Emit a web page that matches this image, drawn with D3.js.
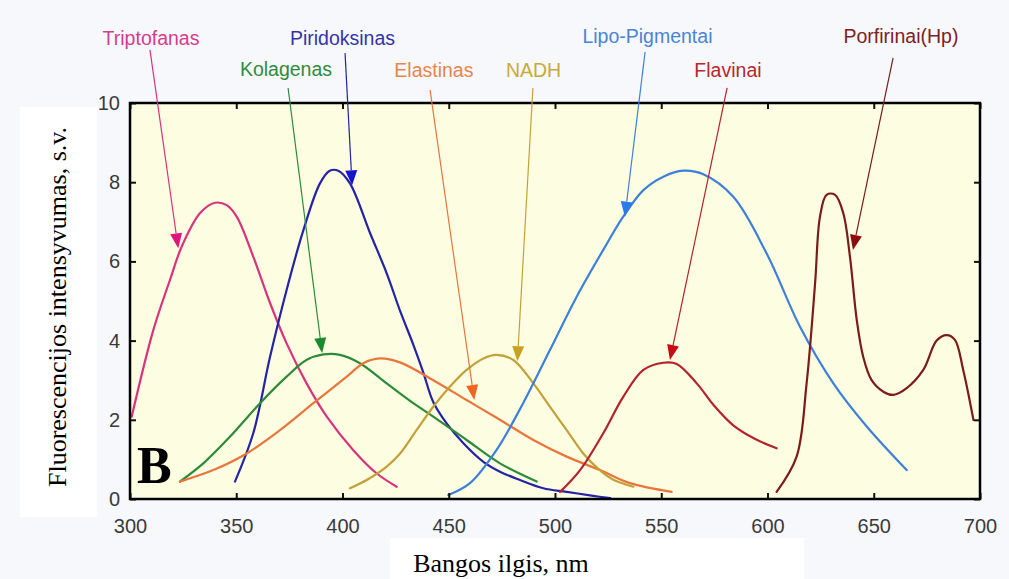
<!DOCTYPE html>
<html>
<head>
<meta charset="utf-8">
<script src="https://cdn.jsdelivr.net/npm/d3@7"></script>
<style>
  body { margin: 0; background: #f7f8fc; }
  svg { display: block; }
</style>
</head>
<body>
<div id="chart"></div>
<script>
// spectra: [wavelength nm, intensity]
const triptofanas = [[300.8,2.08],[311,4.27],[318.8,5.53],[324.3,6.37],[333,7.22],[340,7.48],[345.5,7.42],[350.2,7.13],[358,6.12],[365.9,4.95],[373.7,3.93],[383.1,2.92],[392.6,2.08],[405,1.24],[416,0.65],[425.5,0.31]];
const piridoksinas = [[349.4,0.44],[358,1.66],[365.9,3.59],[373.7,5.28],[381.6,6.79],[389.4,7.97],[394,8.29],[398,8.29],[403.5,7.97],[413,6.71],[420.8,5.7],[427.1,4.75],[433.3,3.9],[438,3.2],[442.7,2.45],[449,1.91],[456.9,1.41],[466.3,0.94],[474.1,0.69],[483.5,0.48],[494.5,0.27],[505.5,0.18],[518,0.08],[526,0.02]];
const kolagenas = [[323.5,0.44],[334.5,0.9],[347,1.57],[361.2,2.42],[373.7,3.09],[383,3.51],[391,3.65],[398.8,3.64],[408.2,3.43],[420.8,2.92],[433.3,2.42],[442.7,2.08],[458.4,1.49],[474.1,0.9],[491.4,0.44]];
const elastinas = [[323.5,0.44],[339.2,0.73],[354.9,1.15],[370.6,1.74],[386.3,2.42],[402,3.09],[409.8,3.43],[417.6,3.55],[427,3.45],[442.7,3.0],[458.4,2.5],[474.1,2.0],[489.8,1.49],[505.5,1.07],[521.2,0.73],[535.3,0.4],[554.9,0.18]];
const nadh = [[403.5,0.27],[412,0.5],[420.8,0.82],[427.1,1.15],[435,1.75],[442.7,2.33],[450.6,2.84],[458.4,3.26],[466.3,3.55],[472.5,3.64],[480.4,3.51],[489.8,2.92],[497.6,2.33],[505.5,1.74],[513.3,1.15],[520,0.78],[527,0.5],[536.9,0.31]];
const lipoPigmentai = [[449.8,0.1],[460,0.4],[472.5,1.24],[485,2.42],[497.6,3.76],[510.2,5.11],[522.7,6.29],[532.1,7.13],[541.6,7.8],[551,8.14],[560.4,8.29],[569.8,8.2],[583.9,7.63],[599.6,6.2],[615.3,4.35],[631,2.92],[646.7,1.83],[665.5,0.73]];
const flavinai = [[502.4,0.18],[511.8,0.73],[522.7,1.66],[532.1,2.58],[541.6,3.26],[551,3.44],[557.3,3.41],[566.7,2.92],[575,2.35],[583.9,1.86],[594,1.52],[604.3,1.28]];
const porfirinai = [[604.3,0.18],[613.7,1.07],[618.4,2.92],[622.4,5.45],[624.7,7.13],[627.8,7.68],[631.8,7.68],[635.7,7.21],[638.8,6.12],[642,4.52],[645,3.6],[649,3.0],[654.5,2.71],[659.2,2.63],[665.5,2.8],[673.3,3.26],[679.6,4.0],[684.3,4.14],[688.2,4.02],[692.1,3.26],[696.9,2.0]];

const names = ["Triptofanas","Piridoksinas","Kolagenas","Elastinas","NADH","Lipo-Pigmentai","Flavinai","Porfirinai(Hp)"];
const spectra = [triptofanas, piridoksinas, kolagenas, elastinas, nadh, lipoPigmentai, flavinai, porfirinai];
// label anchor, arrow start and arrow tip, in data units
const labelAt = [[309.9,11.46],[400,11.46],[373.4,10.68],[443,10.66],[489.9,10.66],[543.5,11.52],[581.4,10.66],[662.8,11.52]];
const arrowFrom = [[309.4,11.34],[401.2,11.26],[374.4,10.38],[441.2,10.33],[489.6,10.38],[542.4,11.29],[581,10.38],[659.1,11.14]];
const arrowTo = [[322.7,6.33],[404.5,7.92],[390.4,3.69],[462,2.5],[482.3,3.48],[532.9,7.13],[554.1,3.51],[640.2,6.29]];
const xTicks = [300,350,400,450,500,550,600,650,700];
const yTicks = [0,2,4,6,8,10];

const lineColors = ["#d9337d","#2323a6","#2d8a3a","#e8763c","#c2a238","#3d80d9","#b3232b","#7a1c1c"];
const labelColors = ["#d63c8c","#3434aa","#2e8c3e","#e8844e","#c8aa3c","#4a84d4","#b8262e","#7c2222"];
const headColors = ["#e0157d","#1414d0","#1a8a2c","#f0641e","#c8a21e","#2a7ae8","#c80a14","#8a0c0c"];

const width = 1009, height = 579;
const margin = {top: 103, right: 29, bottom: 80, left: 130};

const svg = d3.select("#chart").append("svg")
  .attr("width", width)
  .attr("height", height);

svg.append("rect").attr("width", width).attr("height", height).attr("fill", "#f7f8fc");
// white patches behind the axis titles
svg.append("rect").attr("x", 20).attr("y", 107).attr("width", 77).attr("height", 410).attr("fill", "#ffffff");
svg.append("rect").attr("x", 390).attr("y", 538).attr("width", 414).attr("height", 41).attr("fill", "#ffffff");

const x = d3.scaleLinear().domain([300, 700]).range([margin.left, width - margin.right]);
const y = d3.scaleLinear().domain([0, 10]).range([height - margin.bottom, margin.top]);

svg.append("rect")
  .attr("x", x(300)).attr("y", y(10))
  .attr("width", x(700) - x(300)).attr("height", y(0) - y(10))
  .attr("fill", "#fdfde2");

const line = d3.line()
  .x(d => x(d[0]))
  .y(d => y(d[1]))
  .curve(d3.curveCatmullRom.alpha(0.5));

svg.append("g")
  .attr("fill", "none")
  .attr("stroke-width", 2.2)
  .attr("stroke-linejoin", "round")
  .attr("stroke-linecap", "round")
  .selectAll("path")
  .data(spectra)
  .join("path")
    .attr("stroke", (d, i) => lineColors[i])
    .attr("d", line);

// axes, ticks pointing inward
const tickStyle = g => {
  g.select(".domain").remove();
  g.selectAll(".tick line").attr("stroke", "#111").attr("stroke-width", 2);
  g.selectAll(".tick text")
    .attr("fill", "#3a3a3a")
    .attr("font-family", "Liberation Sans, Arial, sans-serif")
    .attr("font-size", 20);
};

svg.append("g")
  .attr("transform", `translate(0,${y(0)})`)
  .call(d3.axisBottom(x).tickValues(xTicks).tickSizeInner(-6).tickSizeOuter(0).tickPadding(20))
  .call(tickStyle)
  .call(g => g.selectAll(".tick text").attr("dy", "0.71em"));

svg.append("g")
  .attr("transform", `translate(0,${y(10)})`)
  .call(d3.axisTop(x).tickValues(xTicks).tickSizeInner(-6).tickSizeOuter(0).tickFormat(""))
  .call(tickStyle);

svg.append("g")
  .attr("transform", `translate(${x(300)},0)`)
  .call(d3.axisLeft(y).tickValues(yTicks).tickSizeInner(-6).tickSizeOuter(0).tickPadding(10))
  .call(tickStyle);

svg.append("g")
  .attr("transform", `translate(${x(700)},0)`)
  .call(d3.axisRight(y).tickValues(yTicks).tickSizeInner(-6).tickSizeOuter(0).tickFormat(""))
  .call(tickStyle);

svg.append("rect")
  .attr("x", x(300)).attr("y", y(10))
  .attr("width", x(700) - x(300)).attr("height", y(0) - y(10))
  .attr("fill", "none")
  .attr("stroke", "#000")
  .attr("stroke-width", 2.5);

// annotation arrows
const notes = svg.append("g");
names.forEach((name, i) => {
  const x0 = x(arrowFrom[i][0]), y0 = y(arrowFrom[i][1]);
  const x1 = x(arrowTo[i][0]), y1 = y(arrowTo[i][1]);
  const ang = Math.atan2(y1 - y0, x1 - x0);
  const len = 15, half = 6;
  const bx = x1 - len * Math.cos(ang), by = y1 - len * Math.sin(ang);
  notes.append("line")
    .attr("x1", x0).attr("y1", y0)
    .attr("x2", bx).attr("y2", by)
    .attr("stroke", lineColors[i])
    .attr("stroke-width", 1.2);
  notes.append("path")
    .attr("d", `M${x1},${y1}L${bx + half * Math.sin(ang)},${by - half * Math.cos(ang)}L${bx - half * Math.sin(ang)},${by + half * Math.cos(ang)}Z`)
    .attr("fill", headColors[i]);
  notes.append("text")
    .attr("x", x(labelAt[i][0]))
    .attr("y", y(labelAt[i][1]))
    .attr("text-anchor", "middle")
    .attr("font-family", "Liberation Sans, Arial, sans-serif")
    .attr("font-size", 19.5)
    .attr("fill", labelColors[i])
    .text(name);
});

svg.append("text")
  .attr("x", 137)
  .attr("y", 483)
  .attr("font-family", "Liberation Serif, Times New Roman, serif")
  .attr("font-weight", "bold")
  .attr("font-size", 52)
  .attr("fill", "#000")
  .text("B");

svg.append("text")
  .attr("x", 501)
  .attr("y", 572)
  .attr("text-anchor", "middle")
  .attr("font-family", "Liberation Serif, Times New Roman, serif")
  .attr("font-size", 26)
  .attr("fill", "#000")
  .text("Bangos ilgis, nm");

svg.append("text")
  .attr("transform", `translate(66,${y(5) + 6}) rotate(-90)`)
  .attr("text-anchor", "middle")
  .attr("font-family", "Liberation Serif, Times New Roman, serif")
  .attr("font-size", 26)
  .attr("fill", "#000")
  .text("Fluorescencijos intensyvumas, s.v.");
</script>
</body>
</html>
